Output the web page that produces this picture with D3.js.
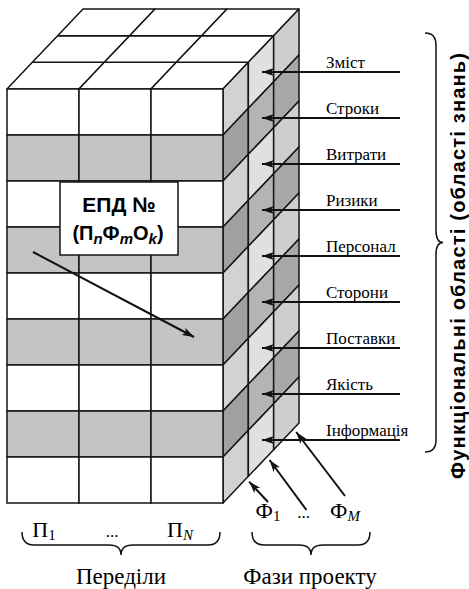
<!DOCTYPE html>
<html>
<head>
<meta charset="utf-8">
<script src="https://cdn.jsdelivr.net/npm/d3@7"></script>
<style>
  body { margin: 0; background: #fff; }
  svg { display: block; }
</style>
</head>
<body>
<svg id="cube" width="469" height="589"></svg>
<script>
// Functional areas (rows), partitions (columns), project phases (depth)
const areas = ["Зміст", "Строки", "Витрати", "Ризики", "Персонал", "Сторони", "Поставки", "Якість", "Інформація"];
const partitions = ["П1", "...", "ПN"];
const phases = ["Ф1", "...", "ФM"];
const shaded = [false, true, false, true, false, true, false, true, false];
const phaseTips = [0.33, 0.6, 0.95]; // where phase arrows hit the bottom edge (depth share)

let svg = d3.select("#cube");
let g = svg.append("g");

// front face scales
let x = d3.scaleBand().domain(d3.range(partitions.length)).range([7, 223]);
let y = d3.scaleBand().domain(areas).range([89, 503]);
// depth (oblique projection)
let z = d3.scaleLinear().domain([0, phases.length]).range([0, 1]);
const DX = 76, DY = -80;
function proj(px, py, k) {
  return [px + z(k) * DX, py + z(k) * DY];
}

const stroke = "#151515";
const serif = "'Liberation Serif', 'Times New Roman', serif";
const sans = "'Liberation Sans', Arial, sans-serif";

// arrow markers
let defs = svg.append("defs");
defs.append("marker")
  .attr("id", "head")
  .attr("markerUnits", "userSpaceOnUse")
  .attr("viewBox", "0 0 12 8")
  .attr("refX", 12)
  .attr("refY", 4)
  .attr("markerWidth", 14)
  .attr("markerHeight", 8)
  .attr("orient", "auto")
  .append("path")
  .attr("d", "M0,0 L12,4 L0,8 L3,4 Z")
  .attr("fill", "#111");

// top face
let faceRight = x.range()[1], faceTop = y.range()[0], faceBottom = y.range()[1];
for (let i = 0; i < partitions.length; i++) {
  for (let k = 0; k < phases.length; k++) {
    let xa = x(i), xb = x(i) + x.bandwidth();
    let pts = [proj(xa, faceTop, k), proj(xb, faceTop, k), proj(xb, faceTop, k + 1), proj(xa, faceTop, k + 1)];
    g.append("polygon")
      .attr("points", pts.map((p) => p.join(",")).join(" "))
      .attr("fill", "#fff")
      .attr("stroke", stroke)
      .attr("stroke-width", 1.5)
      .attr("stroke-linejoin", "round");
  }
}

// side face
let sideLight = ["#d2d2d2", "#e0e0e0", "#cecece"];
let sideDark = ["#a0a0a0", "#b4b4b4", "#a8a8a8"];
areas.forEach(function (a, r) {
  for (let k = 0; k < phases.length; k++) {
    let ya = y(a), yb = y(a) + y.bandwidth();
    let pts = [proj(faceRight, ya, k), proj(faceRight, ya, k + 1), proj(faceRight, yb, k + 1), proj(faceRight, yb, k)];
    g.append("polygon")
      .attr("points", pts.map((p) => p.join(",")).join(" "))
      .attr("fill", shaded[r] ? sideDark[k] : sideLight[k])
      .attr("stroke", stroke)
      .attr("stroke-width", 1.5)
      .attr("stroke-linejoin", "round");
  }
});

// front face
areas.forEach(function (a, r) {
  for (let i = 0; i < partitions.length; i++) {
    g.append("rect")
      .attr("x", x(i))
      .attr("y", y(a))
      .attr("width", x.bandwidth())
      .attr("height", y.bandwidth())
      .attr("fill", shaded[r] ? "#c4c4c4" : "#fff")
      .attr("stroke", stroke)
      .attr("stroke-width", 1.5);
  }
});

// ЕПД box and its pointer
g.append("line")
  .attr("x1", 33).attr("y1", 252)
  .attr("x2", 194).attr("y2", 337)
  .attr("stroke", "#111")
  .attr("stroke-width", 2)
  .attr("marker-end", "url(#head)");

g.append("rect")
  .attr("x", 60).attr("y", 182)
  .attr("width", 118).attr("height", 73)
  .attr("fill", "#fff")
  .attr("stroke", stroke)
  .attr("stroke-width", 1.5);

g.append("text")
  .attr("x", 119).attr("y", 212)
  .attr("text-anchor", "middle")
  .style("font-family", sans)
  .style("font-weight", "bold")
  .style("font-size", "21px")
  .text("ЕПД №");

let t2 = g.append("text")
  .attr("x", 118).attr("y", 240)
  .attr("text-anchor", "middle")
  .style("font-family", sans)
  .style("font-weight", "bold")
  .style("font-size", "20px");
t2.append("tspan").text("(П");
t2.append("tspan").attr("font-style", "italic").attr("font-size", "15px").attr("dy", 4).text("n");
t2.append("tspan").attr("dy", -4).text("Ф");
t2.append("tspan").attr("font-style", "italic").attr("font-size", "15px").attr("dy", 4).text("m");
t2.append("tspan").attr("dy", -4).text("O");
t2.append("tspan").attr("font-style", "italic").attr("font-size", "15px").attr("dy", 4).text("k");
t2.append("tspan").attr("dy", -4).text(")");

// functional area arrows and labels
areas.forEach(function (a) {
  let p = proj(faceRight, y(a) + y.bandwidth() / 2, phases.length / 2);
  g.append("line")
    .attr("x1", 400).attr("y1", p[1])
    .attr("x2", p[0] + 1).attr("y2", p[1])
    .attr("stroke", "#111")
    .attr("stroke-width", 2)
    .attr("marker-end", "url(#head)");
  g.append("text")
    .attr("x", 326)
    .attr("y", p[1] - 4)
    .style("font-family", serif)
    .style("font-size", "17px")
    .text(a);
});

// curly braces
function hBrace(x1, x2, yy) {
  let m = (x1 + x2) / 2, q = 12;
  return "M" + x1 + "," + yy +
    " Q" + x1 + "," + (yy + 13) + " " + (x1 + q) + "," + (yy + 13) +
    " L" + (m - q) + "," + (yy + 13) +
    " Q" + m + "," + (yy + 13) + " " + m + "," + (yy + 23) +
    " Q" + m + "," + (yy + 13) + " " + (m + q) + "," + (yy + 13) +
    " L" + (x2 - q) + "," + (yy + 13) +
    " Q" + x2 + "," + (yy + 13) + " " + x2 + "," + yy;
}
function vBrace(xx, y1, y2) {
  let m = (y1 + y2) / 2, q = 12;
  return "M" + xx + "," + y1 +
    " Q" + (xx + 11) + "," + y1 + " " + (xx + 11) + "," + (y1 + q) +
    " L" + (xx + 11) + "," + (m - q) +
    " Q" + (xx + 11) + "," + m + " " + (xx + 18) + "," + m +
    " Q" + (xx + 11) + "," + m + " " + (xx + 11) + "," + (m + q) +
    " L" + (xx + 11) + "," + (y2 - q) +
    " Q" + (xx + 11) + "," + y2 + " " + xx + "," + y2;
}

g.append("path")
  .attr("d", vBrace(425, 33, 452))
  .attr("fill", "none")
  .attr("stroke", "#111")
  .attr("stroke-width", 1.5);

g.append("text")
  .attr("transform", "translate(465,266) rotate(-90)")
  .attr("text-anchor", "middle")
  .attr("textLength", 426)
  .attr("lengthAdjust", "spacing")
  .style("font-family", sans)
  .style("font-weight", "bold")
  .style("font-size", "20px")
  .text("Функціональні області (області знань)");

// partitions under the front face
let partX = d3.scalePoint().domain(partitions).range([44, 180]);
partitions.forEach(function (p) {
  let t = g.append("text")
    .attr("x", partX(p))
    .attr("y", 537)
    .attr("text-anchor", "middle")
    .style("font-family", serif)
    .style("font-size", "22px");
  if (p === "...") {
    t.style("font-size", "17px").text("...");
  } else {
    t.append("tspan").text(p[0]);
    t.append("tspan")
      .attr("font-size", "15px")
      .attr("dy", 3)
      .attr("font-style", p[1] === "N" ? "italic" : "normal")
      .text(p[1]);
  }
});

g.append("path")
  .attr("d", hBrace(22, 220, 532))
  .attr("fill", "none")
  .attr("stroke", "#111")
  .attr("stroke-width", 1.5);

g.append("text")
  .attr("x", 121).attr("y", 584)
  .attr("text-anchor", "middle")
  .style("font-family", serif)
  .style("font-size", "23px")
  .text("Переділи");

// phase arrows
let phaseX = d3.scalePoint().domain(phases).range([268, 345]);
phases.forEach(function (p, i) {
  let tip = proj(faceRight, faceBottom, phaseTips[i] * phases.length);
  let start = [phaseX(p), 502 + (i === 1 ? 8 : i === 2 ? -6 : 0)];
  g.append("line")
    .attr("x1", start[0]).attr("y1", start[1])
    .attr("x2", tip[0] + 1).attr("y2", tip[1] + 5)
    .attr("stroke", "#111")
    .attr("stroke-width", 2)
    .attr("marker-end", "url(#head)");
});

phases.forEach(function (p) {
  let t = g.append("text")
    .attr("x", phaseX(p))
    .attr("y", 518)
    .attr("text-anchor", "middle")
    .style("font-family", serif)
    .style("font-size", "22px");
  if (p === "...") {
    t.attr("x", phaseX(p) - 3).style("font-size", "17px").text("...");
  } else {
    t.append("tspan").text(p[0]);
    t.append("tspan")
      .attr("font-size", "15px")
      .attr("dy", 3)
      .attr("font-style", p[1] === "M" ? "italic" : "normal")
      .text(p[1]);
  }
});

g.append("path")
  .attr("d", hBrace(252, 370, 532))
  .attr("fill", "none")
  .attr("stroke", "#111")
  .attr("stroke-width", 1.5);

g.append("text")
  .attr("x", 310).attr("y", 584)
  .attr("text-anchor", "middle")
  .style("font-family", serif)
  .style("font-size", "23px")
  .text("Фази проекту");
</script>
</body>
</html>
